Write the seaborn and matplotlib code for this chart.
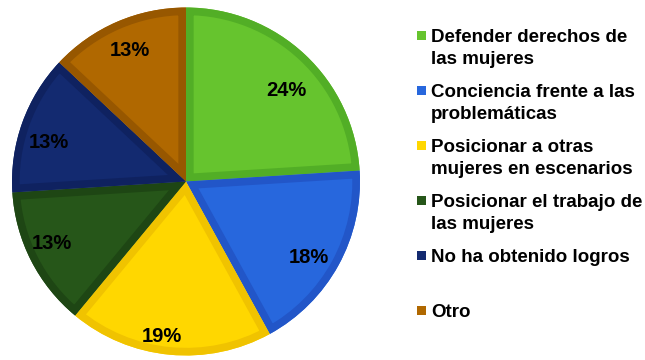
import matplotlib
matplotlib.use("Agg")
import matplotlib.pyplot as plt
from matplotlib.patches import Wedge, Rectangle
import numpy as np
import seaborn as sns

# Survey answers and their shares (percent)
categories = [
    "Defender derechos de\nlas mujeres",
    "Conciencia frente a las\nproblemáticas",
    "Posicionar a otras\nmujeres en escenarios",
    "Posicionar el trabajo de\nlas mujeres",
    "No ha obtenido logros",
    "Otro",
]
shares = [24, 18, 19, 13, 13, 13]

fill_colors = ["#66C42E", "#2767DD", "#FFD700", "#265619", "#132A70", "#B06800"]
edge_colors = ["#52AE26", "#2256C8", "#F0C300", "#1E4614", "#0F2260", "#975700"]
# percentage label placement: radial distance and small angular nudge (deg)
label_dist = [0.78, 0.83, 0.90, 0.85, 0.82, 0.82]
label_nudge = [-4.5, -2.9, -3.3, -2.2, 4.0, -0.4]

sns.set_theme(style="white")
plt.rcParams["font.family"] = ["Liberation Sans", "DejaVu Sans"]

W, H = 645, 360
fig = plt.figure(figsize=(W / 100, H / 100), dpi=100)
fig.patch.set_facecolor("white")

# Pie occupies a square box on the left
ax = fig.add_axes([11.5 / W, 4 / H, 349 / W, 349 / H])
wedges, _ = ax.pie(
    shares,
    colors=fill_colors,
    startangle=90,
    counterclock=False,
    radius=1.0,
    wedgeprops=dict(linewidth=0),
)

# Inner bevel-like border: a thick outline clipped to each wedge
for w, ec, val, d, nd in zip(wedges, edge_colors, shares, label_dist, label_nudge):
    border = Wedge(w.center, w.r, w.theta1, w.theta2,
                   facecolor="none", edgecolor=ec, linewidth=11)
    ax.add_patch(border)
    border.set_clip_path(w)
    ang = np.deg2rad((w.theta1 + w.theta2) / 2 + nd)
    ax.text(d * np.cos(ang), d * np.sin(ang), f"{val}%",
            ha="center", va="center", fontsize=14.5, fontweight="bold",
            color="black")

ax.set_xlim(-1.003, 1.003)
ax.set_ylim(-1.003, 1.003)
ax.set_aspect("equal")
ax.axis("off")

# Legend drawn as colored squares with wrapped labels
sq = 9
for i, (label, col) in enumerate(zip(categories, fill_colors)):
    base = 42 + 55 * i
    fig.patches.append(Rectangle(((421 - sq / 2) / W, 1 - (base - 6.5 + sq / 2) / H),
                                 sq / W, sq / H, transform=fig.transFigure,
                                 facecolor=col, edgecolor="none", figure=fig))
    for j, line in enumerate(label.split("\n")):
        fig.text(431 / W, 1 - (base + 22 * j) / H, line,
                 ha="left", va="baseline", fontsize=13.5, fontweight="bold",
                 color="black")

fig.savefig("out.png", dpi=100, facecolor="white")
